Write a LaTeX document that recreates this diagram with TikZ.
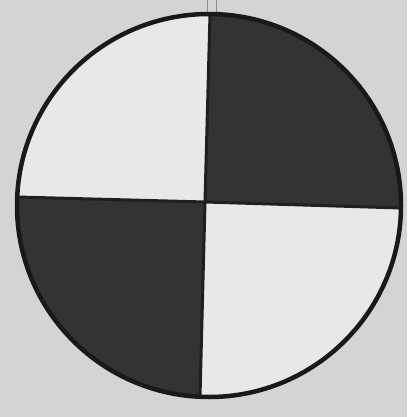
\documentclass[tikz,border=0pt]{standalone}
\begin{document}
\begin{tikzpicture}[x=1pt,y=-1pt,
  outline/.style={line width=4.5pt,draw=black!90},
  divider/.style={line width=3pt,draw=black!88},
  darkq/.style={fill=black!80},
  lightq/.style={fill=black!9}]
\fill[black!17] (0,0) rectangle (407,417);
\useasboundingbox (0,0) rectangle (407,417);
\coordinate (C) at (209,205.5);
\coordinate (T) at (210,14);
\coordinate (B) at (200,397);
\coordinate (L) at (17,197);
\coordinate (R) at (401,208);
\coordinate (M) at (205,202);
\begin{scope}
  \clip (C) ellipse (192 and 191.5);
  \fill[lightq] (C) ellipse (192 and 191.5);
  \fill[darkq] (M) -- (210,-10) -- (430,-10) -- (430,208.5) -- cycle;
  \fill[darkq] (M) -- (-20,196) -- (-20,430) -- (199,430) -- cycle;
\end{scope}
\draw[divider] (T) -- (M) -- (B);
\draw[divider] (L) -- (M) -- (R);
\draw[outline] (C) ellipse (192 and 191.5);
\draw[black!45,line width=0.8pt] (207,0) -- (207,12);
\draw[black!45,line width=0.8pt] (216,0) -- (216,12);
\end{tikzpicture}
\end{document}
